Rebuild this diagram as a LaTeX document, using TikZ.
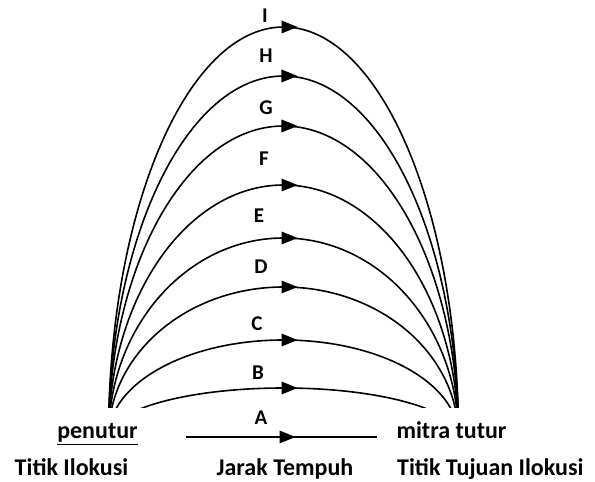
\documentclass[tikz,border=0pt]{standalone}
\usepackage{fontspec}
\setmainfont{Carlito}
\usetikzlibrary{decorations.markings}
\begin{document}
\begin{tikzpicture}[x=1pt,y=1pt,
  lbl/.style={font=\bfseries\fontsize{24}{27}\selectfont, inner sep=0pt, anchor=base},
  letter/.style={font=\bfseries\fontsize{21}{23}\selectfont, inner sep=0pt, anchor=base},
  arcline/.style={line width=1.6pt, postaction={decorate},
    decoration={markings, mark=at position 0.5 with {\fill (-2pt,6.5pt) -- (14pt,0pt) -- (-2pt,-6.5pt) -- cycle;}}}]
\useasboundingbox (0,0) rectangle (595,482);
\coordinate (L) at (108.5,45);
\coordinate (R) at (458.5,45);
\begin{scope}
\clip (0,74) rectangle (595,482);
\foreach \h in {410,361,311,252,199,150,97,49}
  \draw[arcline] (L) arc[start angle=180, end angle=0, x radius=175pt, y radius=\h pt];
\end{scope}
\coordinate (s) at (186,45);
\coordinate (e) at (377,45);
\draw[arcline] (s) -- (e);
\node[letter] (lI) at (265,459) {I};
\node[letter] (lH) at (266,419) {H};
\node[letter] (lG) at (266,367) {G};
\node[letter] (lF) at (264,316) {F};
\node[letter] (lE) at (259,259) {E};
\node[letter] (lD) at (261,208) {D};
\node[letter] (lC) at (257,151) {C};
\node[letter] (lB) at (258,102) {B};
\node[letter] (lA) at (261,57) {A};
\node[lbl] (pen) at (97.5,43) {\underline{penutur}};
\node[lbl] (mit) at (451.5,43) {mitra tutur};
\node[lbl] (ti) at (71.5,6) {Titik Ilokusi};
\node[lbl] (jt) at (285,6) {Jarak Tempuh};
\node[lbl, anchor=base west] (ttl) at (397,6) {Titik Tujuan Ilokusi};
\end{tikzpicture}
\end{document}
